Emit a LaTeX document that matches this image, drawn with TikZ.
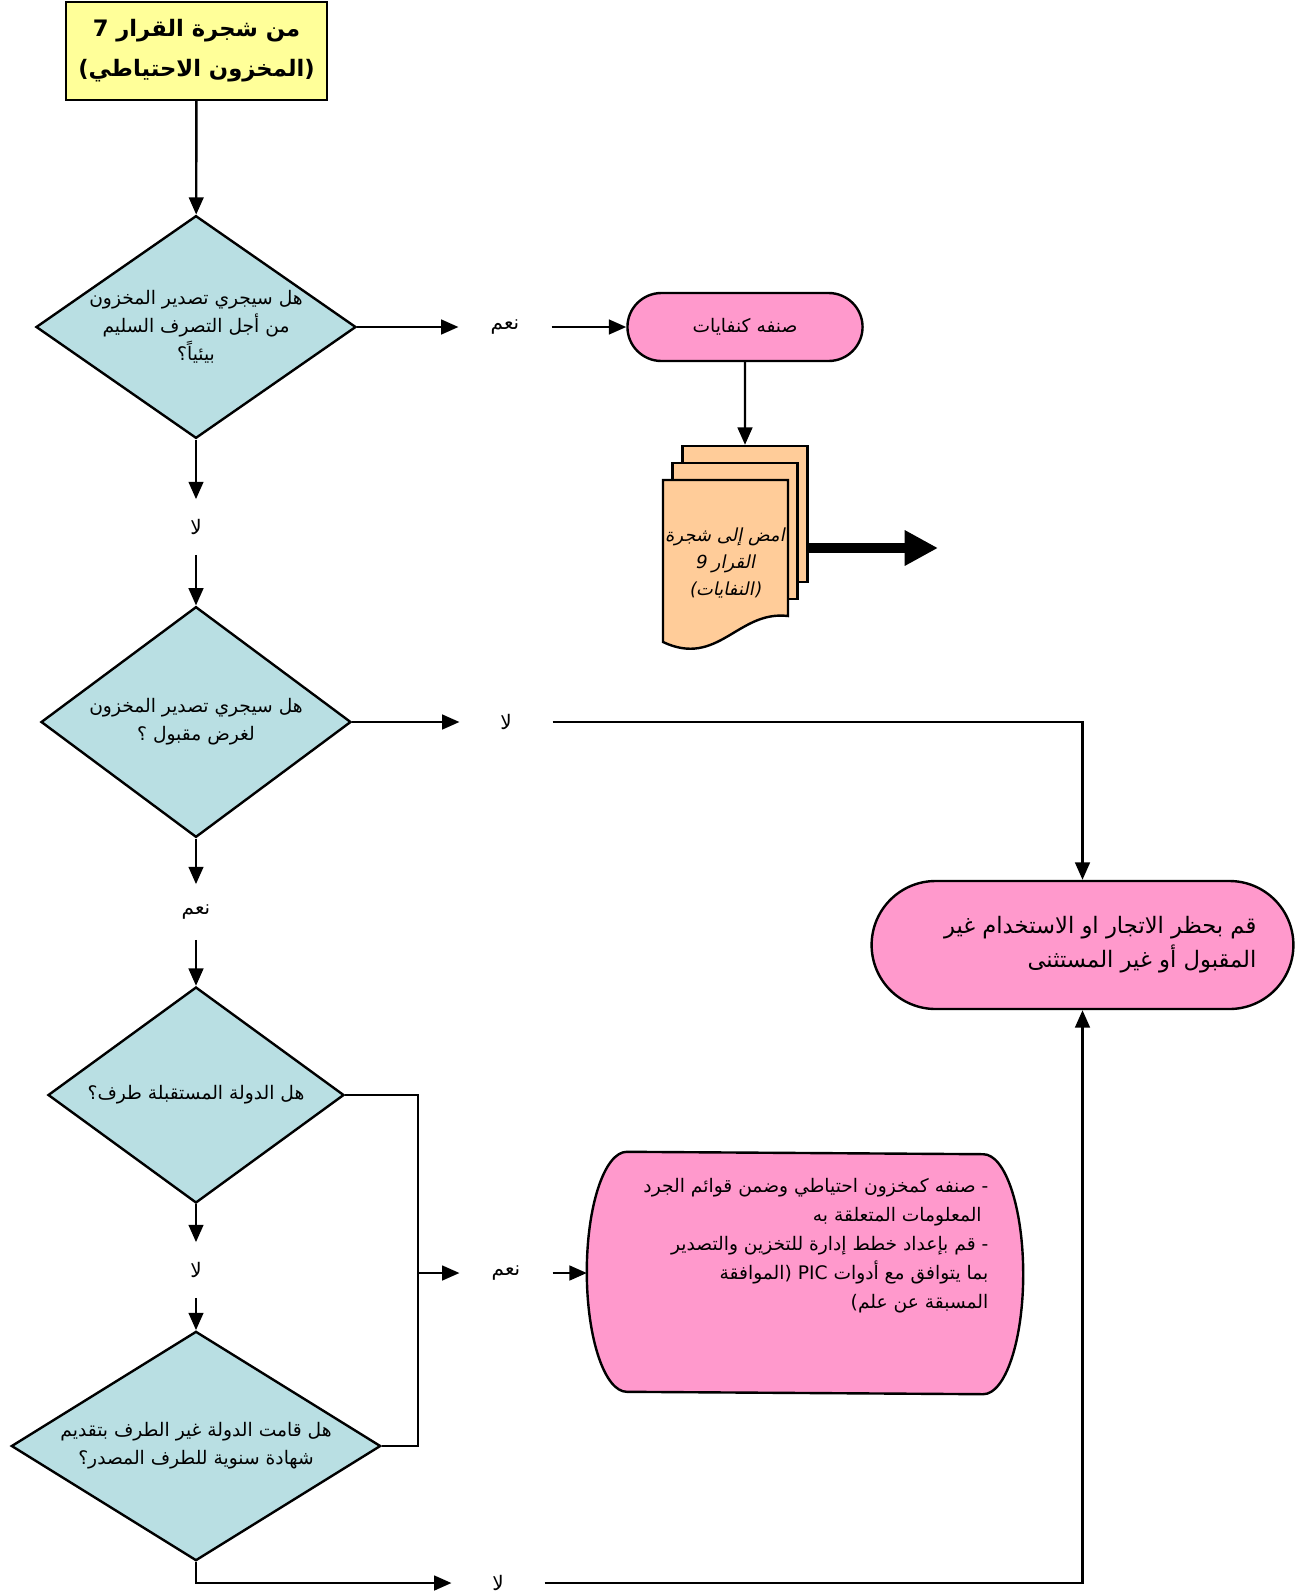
\documentclass[tikz,border=0pt]{standalone}
\usepackage{fontspec}
\newfontfamily\arabicfont[Script=Arabic]{DejaVu Sans}
\newfontfamily\arabicslant[Script=Arabic,FakeSlant=0.2]{DejaVu Sans}
\TeXXeTstate=1
\usetikzlibrary{arrows.meta,shapes.geometric,shapes.misc}
\definecolor{startyellow}{HTML}{FFFF99}
\definecolor{askblue}{HTML}{B9DFE3}
\definecolor{actpink}{HTML}{FF99CC}
\definecolor{docorange}{HTML}{FFCC99}
\newcommand{\artext}[1]{\beginR #1\endR}

\begin{document}
\begin{tikzpicture}[x=0.75pt, y=-0.75pt, line width=1.8pt,
			>={Triangle[length=13pt, width=11pt]},
			startbox/.style={draw, fill=startyellow, minimum width=195.75pt, minimum height=73.5pt,
				align=center, font=\arabicfont\bfseries\fontsize{17}{30}\selectfont},
			ask/.style={draw, diamond, fill=askblue, inner sep=0pt},
			asktext/.style={align=center, font=\arabicfont\fontsize{14}{21}\selectfont},
			answer/.style={minimum width=68pt, minimum height=40pt, font=\arabicfont\fontsize{15}{16}\selectfont},
			act/.style={draw, rounded rectangle, fill=actpink, align=right, font=\arabicfont\fontsize{14}{25.5}\selectfont},
			docpage/.style={draw, fill=docorange, minimum width=93.75pt, minimum height=102pt},
			bigarrow/.style={line width=7.5pt, -{Triangle[length=25pt, width=25pt]}}]
			\useasboundingbox (0,0) rectangle (1311,1595);
			
			\node[startbox] (s0) at (196.5,51) {\artext{من شجرة القرار 7}\\\artext{(المخزون الاحتياطي)}};
			
			\node[ask, minimum width=240pt, minimum height=167pt] (q1) at (196,327) {};
			\node[asktext] (q1t) at (q1) {\artext{هل سيجري تصدير المخزون}\\\artext{من أجل التصرف السليم}\\\artext{بيئياً؟}};
			\node[ask, minimum width=232.5pt, minimum height=173pt] (q2) at (196,722) {};
			\node[asktext] (q2t) at (q2) {\artext{هل سيجري تصدير المخزون}\\\artext{لغرض مقبول ؟}};
			\node[ask, minimum width=222pt, minimum height=162pt] (q3) at (196,1095) {};
			\node[asktext] (q3t) at (q3) {\artext{هل الدولة المستقبلة طرف؟}};
			\node[ask, minimum width=277pt, minimum height=172pt] (q4) at (196,1446) {};
			\node[asktext] (q4t) at (q4) {\artext{هل قامت الدولة غير الطرف بتقديم}\\\artext{شهادة سنوية  للطرف المصدر؟}};
			
			\node[answer] (y1) at (505,327) {\artext{نعم}};
			\node[answer] (n1) at (196,527) {\artext{لا}};
			\node[answer] (n2) at (506,722) {\artext{لا}};
			\node[answer] (y2) at (196,912) {\artext{نعم}};
			\node[answer] (n3) at (196,1270) {\artext{لا}};
			\node[answer] (y3) at (506,1273) {\artext{نعم}};
			\node[answer] (n4) at (498,1583) {\artext{لا}};
			
			\node[act, minimum width=183pt, minimum height=51pt] (a1) at (745,327) {\artext{صنفه كنفايات}};
			\node[act, minimum width=323pt, minimum height=96pt] (a3) at (1082.5,945) {};
			\node[anchor=east, align=right, font=\arabicfont\fontsize{17}{25.5}\selectfont] (a3t) at (1262,945)
				{\artext{قم بحظر الاتجار او الاستخدام غير}\\\artext{المقبول أو غير المستثنى}};
			
			% box with curved sides
			\node[minimum width=325.5pt, minimum height=180pt] (a2) at (805,1273) {};
			\draw[fill=actpink] ([xshift=30pt]a2.north west) arc[start angle=90, end angle=270, x radius=30pt, y radius=90pt]
				-- ([xshift=-30pt]a2.south east) arc[start angle=-90, end angle=90, x radius=30pt, y radius=90pt] -- cycle;
			\node[anchor=north east, align=right, font=\arabicfont\fontsize{14}{21.75}\selectfont] (a2t) at (994,1173)
				{\artext{- صنفه كمخزون احتياطي وضمن قوائم الجرد}\\\artext{\hspace{5pt}المعلومات المتعلقة به}\\
				 \artext{- قم بإعداد خطط إدارة للتخزين والتصدير}\\\artext{بما يتوافق مع أدوات \beginL PIC\endL{} (الموافقة}\\
				 \artext{المسبقة عن علم)}};
			
			% stack of pages
			\node[docpage] (docback) at (745,514) {};
			\node[docpage] (docmid) at (735,531) {};
			\draw[fill=docorange] (663,480) -- (788,480) -- (788,616) .. controls (738,610) and (718,668) .. (663,642) -- cycle;
			\node[align=center, font=\arabicslant\fontsize{13.5}{20}\selectfont] (docfront) at (725,563)
				{\artext{امض إلى شجرة}\\\artext{القرار 9}\\\artext{(النفايات)}};
			\coordinate (goto) at (938,548);
			\draw[bigarrow] (docback.east |- goto) -- (goto);
			
			\coordinate (jn) at (418,1273);
			
			\path[->] 	(s0)  edge   (q1);
			\path[->] 	(q1)  edge   (y1);
			\path[->] 	(y1)  edge   (a1);
			\path[->] 	(a1)  edge   (docback);
			\path[->] 	(q1)  edge   (n1);
			\path[->] 	(n1)  edge   (q2);
			\path[->] 	(q2)  edge   (n2);
			\draw[->] 	(n2)  -|     (a3);
			\path[->] 	(q2)  edge   (y2);
			\path[->] 	(y2)  edge   (q3);
			\path[->] 	(q3)  edge   (n3);
			\path[->] 	(n3)  edge   (q4);
			\draw 		(q3)  -|     (jn) |- (q4);
			\path[->] 	(jn)  edge   (y3);
			\path[->] 	(y3)  edge   (a2);
			\draw[->] 	(q4)  |-     (n4);
			\draw[->] 	(n4)  -|     (a3);
\end{tikzpicture}
\end{document}
